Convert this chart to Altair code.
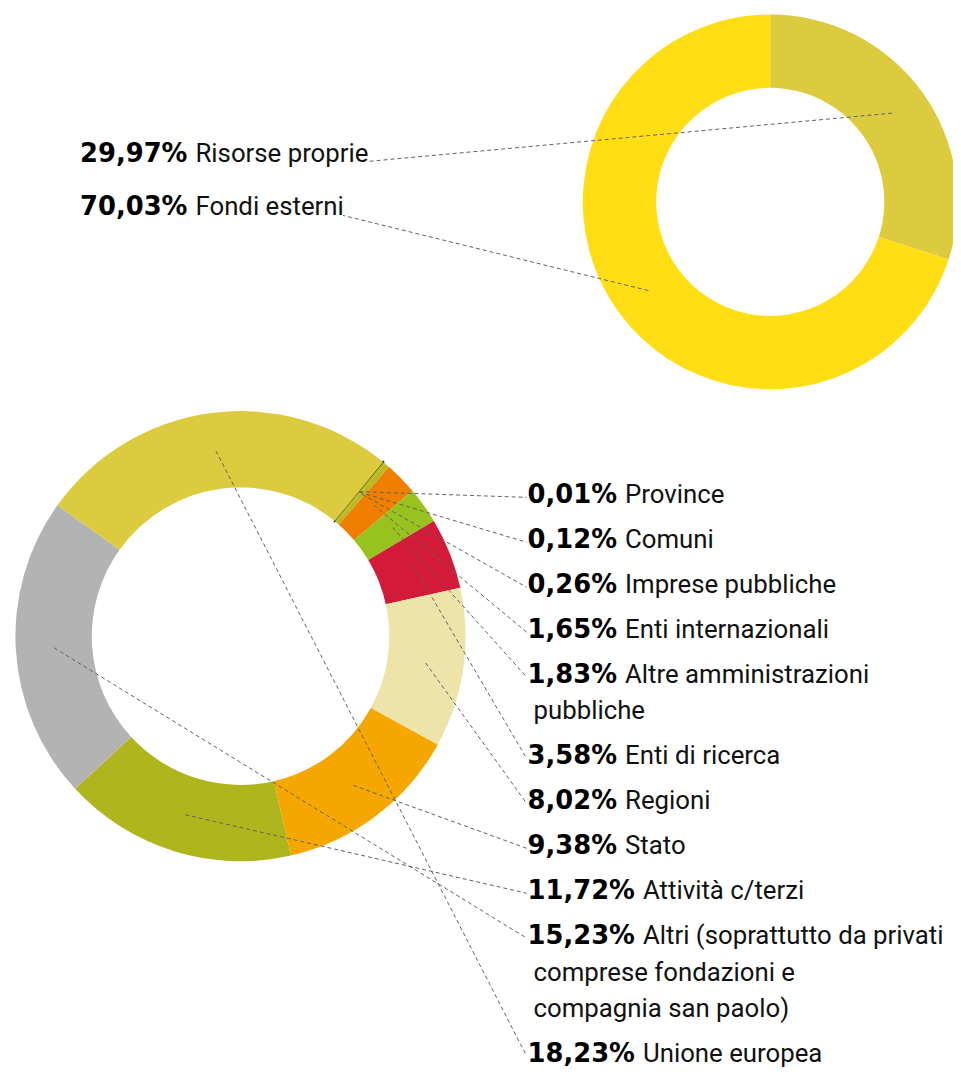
import math
import altair as alt
import pandas as pd

# ---------------- data ----------------
TOP_NAMES = ["Risorse proprie", "Fondi esterni"]
TOP_VALUES = [29.97, 70.03]
TOP_COLORS = ["#DCCB3E", "#FFDE15"]

BOTTOM_NAMES = [
    "Province",
    "Comuni",
    "Imprese pubbliche",
    "Enti internazionali",
    "Altre amministrazioni\npubbliche",
    "Enti di ricerca",
    "Regioni",
    "Stato",
    "Attività c/terzi",
    "Altri (soprattutto da privati\ncomprese fondazioni e\ncompagnia san paolo)",
    "Unione europea",
]
BOTTOM_VALUES = [0.01, 0.12, 0.26, 1.65, 1.83, 3.58, 8.02, 9.38, 11.72, 15.23, 18.23]
BOTTOM_COLORS = ["#000000", "#B3B51E", "#BAB823", "#F07F00", "#98C21E", "#D31A38",
                 "#EDE4A9", "#F5A700", "#AFB51C", "#B3B3B3", "#DCCB3E"]

# ---------------- layout (plot coordinates = page - 8) ----------------
W, H = 953, 1066
TOP_CX, TOP_CY, TOP_R, TOP_R2 = 768.7, 191.0, 189, 115
BOT_CX, BOT_CY, BOT_R, BOT_R2 = 234.5, 629.0, 227, 150
TOP_START = 0.0
BOT_START = math.radians(39.3)

FS = 26
NUM_FONT = "DejaVu Sans"
NAME_FONT = "Roboto"
DEJAVU_BOLD = {d: 0.696 for d in "0123456789"}
DEJAVU_BOLD.update({",": 0.381, "%": 1.002})
ROBOTO = {" ": 0.248, "a": 0.531, "b": 0.548, "c": 0.510, "d": 0.550, "e": 0.517,
          "f": 0.339, "g": 0.548, "h": 0.538, "i": 0.237, "j": 0.233, "k": 0.495,
          "l": 0.237, "m": 0.855, "n": 0.539, "o": 0.556, "p": 0.548, "q": 0.553,
          "r": 0.331, "s": 0.504, "t": 0.319, "u": 0.538, "v": 0.473, "w": 0.733,
          "x": 0.484, "y": 0.462, "z": 0.484, "R": 0.615, "F": 0.553}


def text_w(s, table):
    return sum(table.get(ch, 0.56) for ch in s) * FS


def fmt(v):
    return f"{v:.2f}".replace(".", ",") + "%"


GAP = 8

# top donut table
top_rows = []
for i, (n, v, c) in enumerate(zip(TOP_NAMES, TOP_VALUES, TOP_COLORS)):
    num = fmt(v)
    nx = 72.7
    by = 150.3 + 54.4 * i
    namex = nx + text_w(num, DEJAVU_BOLD) + GAP
    top_rows.append(dict(order=i, name=n, value=v, color=c, num=num, numx=nx,
                         namex=namex, first=n, by=by,
                         lx=namex + text_w(n, ROBOTO) + 2, ly=by))
top_df = pd.DataFrame(top_rows)

# bottom donut table
bot_rows, cont_rows = [], []
extra = 0
for i, (n, v, c) in enumerate(zip(BOTTOM_NAMES, BOTTOM_VALUES, BOTTOM_COLORS)):
    lines = n.split("\n")
    num = fmt(v)
    nx = 524
    by = 495 + 45.3 * i + 36.8 * extra
    namex = nx + text_w(num, DEJAVU_BOLD) + GAP
    bot_rows.append(dict(order=i, name=n, value=v, color=c, num=num, numx=nx,
                         namex=namex, first=lines[0], by=by,
                         lx=523, ly=by - 6))
    for j, ln in enumerate(lines[1:]):
        cont_rows.append(dict(text=ln, x=530, y=by + 36.8 * (j + 1)))
    extra += len(lines) - 1
bot_df = pd.DataFrame(bot_rows)
cont_df = pd.DataFrame(cont_rows)


def geom(df, start, cx, cy, rmid):
    return (
        alt.Chart(df)
        .transform_joinaggregate(total="sum(value)")
        .transform_window(cum="sum(value)", sort=[alt.SortField("order")], frame=[None, 0])
        .transform_calculate(
            t1=f"{start} + 2*PI*datum.cum/datum.total",
            t0="datum.t1 - 2*PI*datum.value/datum.total",
            mid="(datum.t0 + datum.t1)/2",
            cxm=f"{cx} + {rmid}*sin(datum.mid)",
            cym=f"{cy} - {rmid}*cos(datum.mid)",
        )
    )


def donut(df, start, cx, cy, r, r2):
    base = geom(df, start, cx, cy, (r + r2) / 2)
    arcs = base.mark_arc(outerRadius=r, innerRadius=r2).encode(
        x=alt.value(cx),
        y=alt.value(cy),
        theta=alt.Theta("t0:Q", scale=None),
        theta2=alt.Theta2("t1:Q"),
        color=alt.Color("color:N", scale=None, legend=None),
        stroke=alt.Stroke("color:N", scale=None, legend=None),
        strokeWidth=alt.condition("datum.value < 0.05", alt.value(2), alt.value(0)),
    )
    leaders = base.mark_rule(color="#606060", strokeWidth=1, strokeDash=[4, 3]).encode(
        x=alt.X("cxm:Q", scale=None, axis=None),
        y=alt.Y("cym:Q", scale=None, axis=None),
        x2="lx:Q",
        y2="ly:Q",
    )
    nums = alt.Chart(df).mark_text(
        font=NUM_FONT, fontWeight="bold", fontSize=FS, align="left",
        baseline="alphabetic", color="#000000"
    ).encode(
        x=alt.X("numx:Q", scale=None, axis=None),
        y=alt.Y("by:Q", scale=None, axis=None),
        text="num:N",
    )
    names = alt.Chart(df).mark_text(
        font=NAME_FONT, fontSize=FS, align="left", baseline="alphabetic", color="#111111"
    ).encode(
        x=alt.X("namex:Q", scale=None, axis=None),
        y=alt.Y("by:Q", scale=None, axis=None),
        text="first:N",
    )
    return [arcs, leaders, nums, names]


cont = alt.Chart(cont_df).mark_text(
    font=NAME_FONT, fontSize=FS, align="left", baseline="alphabetic", color="#111111"
).encode(
    x=alt.X("x:Q", scale=None, axis=None),
    y=alt.Y("y:Q", scale=None, axis=None),
    text="text:N",
)

layers = donut(top_df, TOP_START, TOP_CX, TOP_CY, TOP_R, TOP_R2) + \
    donut(bot_df, BOT_START, BOT_CX, BOT_CY, BOT_R, BOT_R2) + [cont]

chart = (
    alt.layer(*layers)
    .properties(width=W, height=H, autosize="none", padding=0, background="white")
    .configure_view(stroke=None)
)

chart.save("out.html", embed_options={"renderer": "svg", "actions": False})
